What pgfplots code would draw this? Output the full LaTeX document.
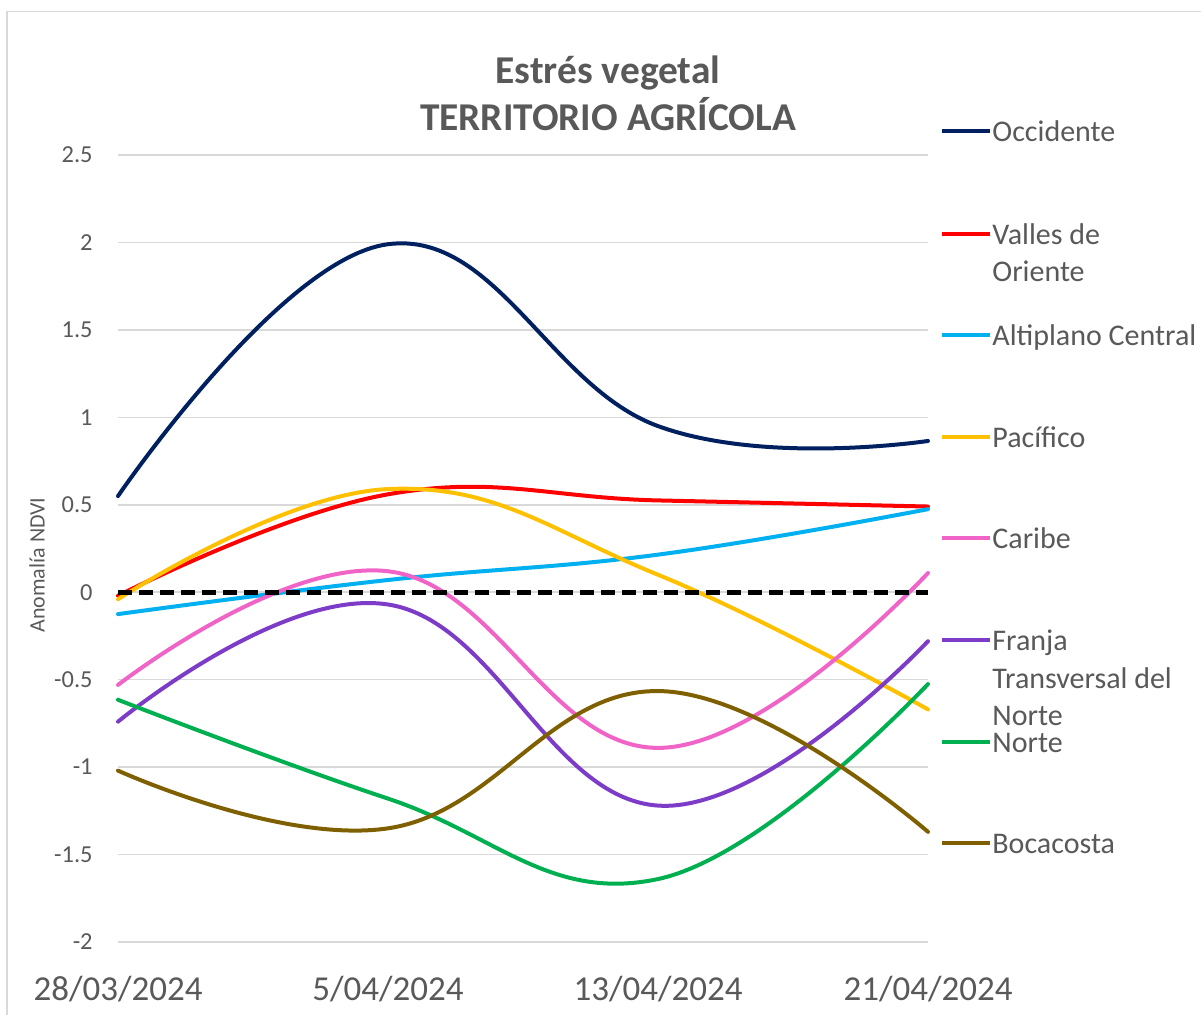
\documentclass[border=0pt]{standalone}
\usepackage{fontspec}
\setmainfont{Carlito}
\usepackage{pgfplots}
\usepackage{pgfplotstable}
\pgfplotsset{compat=1.18}
\definecolor{txt}{HTML}{595959}
\definecolor{gridc}{HTML}{D9D9D9}
\definecolor{cocc}{HTML}{002060}
\definecolor{cval}{HTML}{FF0000}
\definecolor{calt}{HTML}{00B0F0}
\definecolor{cpac}{HTML}{FFC000}
\definecolor{ccar}{RGB}{240,100,200}
\definecolor{cfra}{RGB}{125,60,200}
\definecolor{cnor}{HTML}{00B050}
\definecolor{cboc}{HTML}{7F6000}

\pgfplotstableread{
d occ val alt pac car fra nor boc
0 0.55 -0.02 -0.125 -0.04 -0.53 -0.74 -0.615 -1.02
8 1.99 0.56 0.07 0.59 0.12 -0.07 -1.18 -1.35
16 0.95 0.525 0.215 0.10 -0.89 -1.22 -1.64 -0.565
24 0.865 0.49 0.475 -0.67 0.11 -0.28 -0.525 -1.37
}\data

\begin{document}
\begin{tikzpicture}
\useasboundingbox (0,0) rectangle (600.5pt,-507pt);
\begin{scope}[x={(0.5pt,0)}, y={(0,-0.5pt)}]
  \draw[gridc, line width=0.8pt] (7,1100) -- (7,11.5) -- (1300,11.5);
  % title
  \node[anchor=base, inner sep=0pt, text=txt, font=\fontsize{19.7}{23.6}\selectfont\bfseries] at (608,83) {Estrés vegetal};
  \node[anchor=base, inner sep=0pt, text=txt, font=\fontsize{19.7}{23.6}\selectfont\bfseries] at (608,130) {TERRITORIO AGRÍCOLA};
  % y label
  \node[rotate=90, inner sep=0pt, text=txt, font=\fontsize{11}{13}\selectfont] at (37,565) {Anomalía NDVI};
\end{scope}

\begin{axis}[
  at={(59pt,-471pt)}, anchor=south west,
  width=405pt, height=393.5pt, scale only axis,
  xmin=0, xmax=24, ymin=-2, ymax=2.5,
  clip=false,
  axis line style={draw=none},
  major tick length=0pt,
  ymajorgrids,
  grid style={gridc, line width=0.75pt},
  xtick={0,8,16,24},
  xticklabels={28/03/2024,5/04/2024,13/04/2024,21/04/2024},
  ytick={-2,-1.5,-1,-0.5,0,0.5,1,1.5,2,2.5},
  yticklabels={-2,-1.5,-1,-0.5,0,0.5,1,1.5,2,2.5},
  xticklabel style={anchor=base, yshift=-29pt, inner sep=0pt, text=txt, font=\fontsize{17.5}{20}\selectfont},
  yticklabel style={anchor=east, xshift=-12.5pt, inner sep=0pt, text=txt, font=\fontsize{12.2}{14}\selectfont},
  every axis plot/.append style={line width=2pt, smooth, tension=0.72, mark=none, line cap=round},
]
\addplot[cocc] table[x=d, y=occ] {\data};
\addplot[cval] table[x=d, y=val] {\data};
\addplot[calt] table[x=d, y=alt] {\data};
\addplot[cpac] table[x=d, y=pac] {\data};
\addplot[ccar] table[x=d, y=car] {\data};
\addplot[cfra] table[x=d, y=fra] {\data};
\addplot[cnor] table[x=d, y=nor] {\data};
\addplot[cboc] table[x=d, y=boc] {\data};
\addplot[black, line width=2.5pt, line cap=butt, dash pattern=on 7pt off 3.5pt, sharp plot] coordinates {(0,0) (24,0)};
\end{axis}

\begin{scope}[x={(0.5pt,0)}, y={(0,-0.5pt)}]
  \newcommand\legline[2]{\draw[#1, line width=2pt] (942,#2) -- (990,#2);}
  \newcommand\legtext[2]{\node[anchor=base west, inner sep=0pt, text=txt, font=\fontsize{15}{18}\selectfont] at (992,#1) {#2};}
  \legline{cocc}{131}\legtext{141}{Occidente}
  \legline{cval}{234}\legtext{244}{Valles de}\legtext{281}{Oriente}
  \legline{calt}{335}\legtext{345}{Altiplano Central}
  \legline{cpac}{437}\legtext{447}{Pacífico}
  \legline{ccar}{538}\legtext{548}{Caribe}
  \legline{cfra}{640}\legtext{650}{Franja}\legtext{688}{Transversal del}\legtext{725}{Norte}
  \legline{cnor}{742}\legtext{752}{Norte}
  \legline{cboc}{843}\legtext{853}{Bocacosta}
\end{scope}
\end{tikzpicture}
\end{document}
